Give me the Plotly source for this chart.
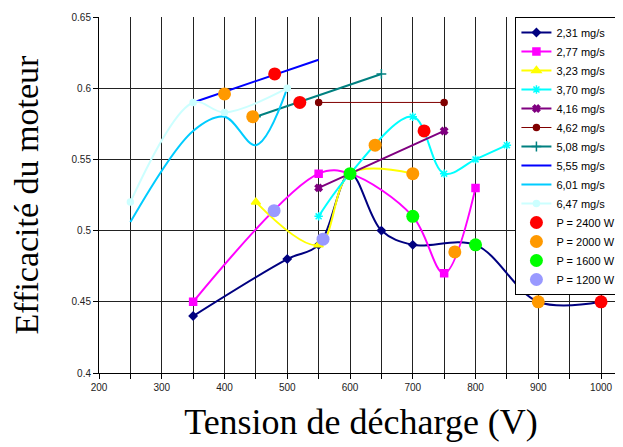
import plotly.graph_objects as go

# ---- data ----
x_231 = [350, 500, 550, 600, 650, 700, 800, 900, 1000]
y_231 = [0.44, 0.48, 0.49, 0.54, 0.50, 0.49, 0.49, 0.45, 0.45]

x_277 = [350, 550, 600, 700, 750, 800]
y_277 = [0.45, 0.54, 0.54, 0.51, 0.47, 0.53]

x_323 = [450, 550, 600, 700]
y_323 = [0.52, 0.49, 0.54, 0.54]

x_370 = [550, 600, 700, 750, 800, 850]
y_370 = [0.51, 0.54, 0.58, 0.54, 0.55, 0.56]

x_416 = [550, 600, 750]
y_416 = [0.53, 0.54, 0.57]

x_462 = [550, 750]
y_462 = [0.59, 0.59]

x_508 = [450, 650]
y_508 = [0.58, 0.61]

x_555 = [350, 550]
y_555 = [0.59, 0.62]

x_601 = [250, 350, 400, 450, 500]
y_601 = [0.506, 0.57, 0.58, 0.56, 0.60]

x_647 = [250, 350, 400, 500]
y_647 = [0.52, 0.59, 0.583, 0.60]

# power iso-points
x_p2400 = [480, 520, 718, 1000]
y_p2400 = [0.61, 0.59, 0.57, 0.45]
x_p2000 = [400, 445, 640, 700, 767, 900]
y_p2000 = [0.596, 0.58, 0.56, 0.54, 0.485, 0.45]
x_p1600 = [600, 700, 800]
y_p1600 = [0.54, 0.51, 0.49]
x_p1200 = [479, 557]
y_p1200 = [0.514, 0.494]

series = [
    ("2,31 mg/s", x_231, y_231, "#000080", "diamond", 6, 2),
    ("2,77 mg/s", x_277, y_277, "#FF00FF", "square", 7, 2),
    ("3,23 mg/s", x_323, y_323, "#FFFF00", "triangle-up", 8, 2),
    ("3,70 mg/s", x_370, y_370, "#00FFFF", "asterisk-open", 7, 2),
    ("4,16 mg/s", x_416, y_416, "#800080", "x", 6, 2),
    ("4,62 mg/s", x_462, y_462, "#800000", "circle", 6, 1),
    ("5,08 mg/s", x_508, y_508, "#008080", "cross-thin-open", 7, 2),
    ("5,55 mg/s", x_555, y_555, "#0000FF", None, 0, 2),
    ("6,01 mg/s", x_601, y_601, "#00CCFF", None, 0, 2),
    ("6,47 mg/s", x_647, y_647, "#CCFFFF", "circle", 6, 2),
]

powers = [
    ("P = 2400 W", x_p2400, y_p2400, "#FF0000"),
    ("P = 2000 W", x_p2000, y_p2000, "#FF9900"),
    ("P = 1600 W", x_p1600, y_p1600, "#00FF00"),
    ("P = 1200 W", x_p1200, y_p1200, "#9999FF"),
]

fig = go.Figure()
for name, xs, ys, col, sym, ms, lw in series:
    if sym is None:
        fig.add_trace(go.Scatter(x=xs, y=ys, name=name, mode="lines",
                                 line=dict(color=col, width=lw, shape="spline", smoothing=1)))
    else:
        fig.add_trace(go.Scatter(x=xs, y=ys, name=name, mode="lines+markers",
                                 line=dict(color=col, width=lw, shape="spline", smoothing=1),
                                 marker=dict(symbol=sym, size=ms, color=col,
                                             line=dict(color=col, width=1.5))))
for name, xs, ys, col in powers:
    fig.add_trace(go.Scatter(x=xs, y=ys, name=name, mode="markers",
                             marker=dict(symbol="circle", size=13, color=col)))

tickfont = dict(family="Liberation Sans Narrow, Arial Narrow, Liberation Sans, Arial", size=10, color="#222")
serif = "Liberation Serif, Times New Roman, serif"

fig.update_layout(
    width=623, height=447,
    margin=dict(l=91, r=8, t=9, b=82, autoexpand=False),
    paper_bgcolor="white", plot_bgcolor="white",
    showlegend=True,
    legend=dict(x=0.997, y=1.0, xanchor="right", yanchor="top",
                bgcolor="white", bordercolor="black", borderwidth=1,
                font=dict(family="Liberation Sans Narrow, Arial Narrow, Liberation Sans, Arial", size=11, color="black"),
                tracegroupgap=0, itemwidth=30),
    xaxis=dict(range=[200, 1035], tickmode="linear", tick0=200, dtick=100,
               automargin=False,
               showgrid=True, gridcolor="#222", gridwidth=1,
               minor=dict(dtick=50, tick0=200, showgrid=True, gridcolor="#222", gridwidth=1,
                          ticks="outside", ticklen=5, tickcolor="black"),
               ticks="outside", ticklen=5, tickcolor="black",
               showline=True, linecolor="black", linewidth=1, mirror=False,
               zeroline=False, tickfont=tickfont,
               title=dict(text="Tension de décharge (V)", font=dict(family=serif, size=36, color="black"), standoff=16)),
    yaxis=dict(range=[0.4, 0.65], tickmode="linear", tick0=0.4, dtick=0.05,
               automargin=False,
               showgrid=True, gridcolor="#222", gridwidth=1,
               ticks="outside", ticklen=5, tickcolor="black",
               showline=True, linecolor="black", linewidth=1,
               zeroline=False, tickfont=tickfont,
               title=dict(text="Efficacité du moteur", font=dict(family=serif, size=34, color="black"), standoff=28)),
)

fig.write_html("out.html")
